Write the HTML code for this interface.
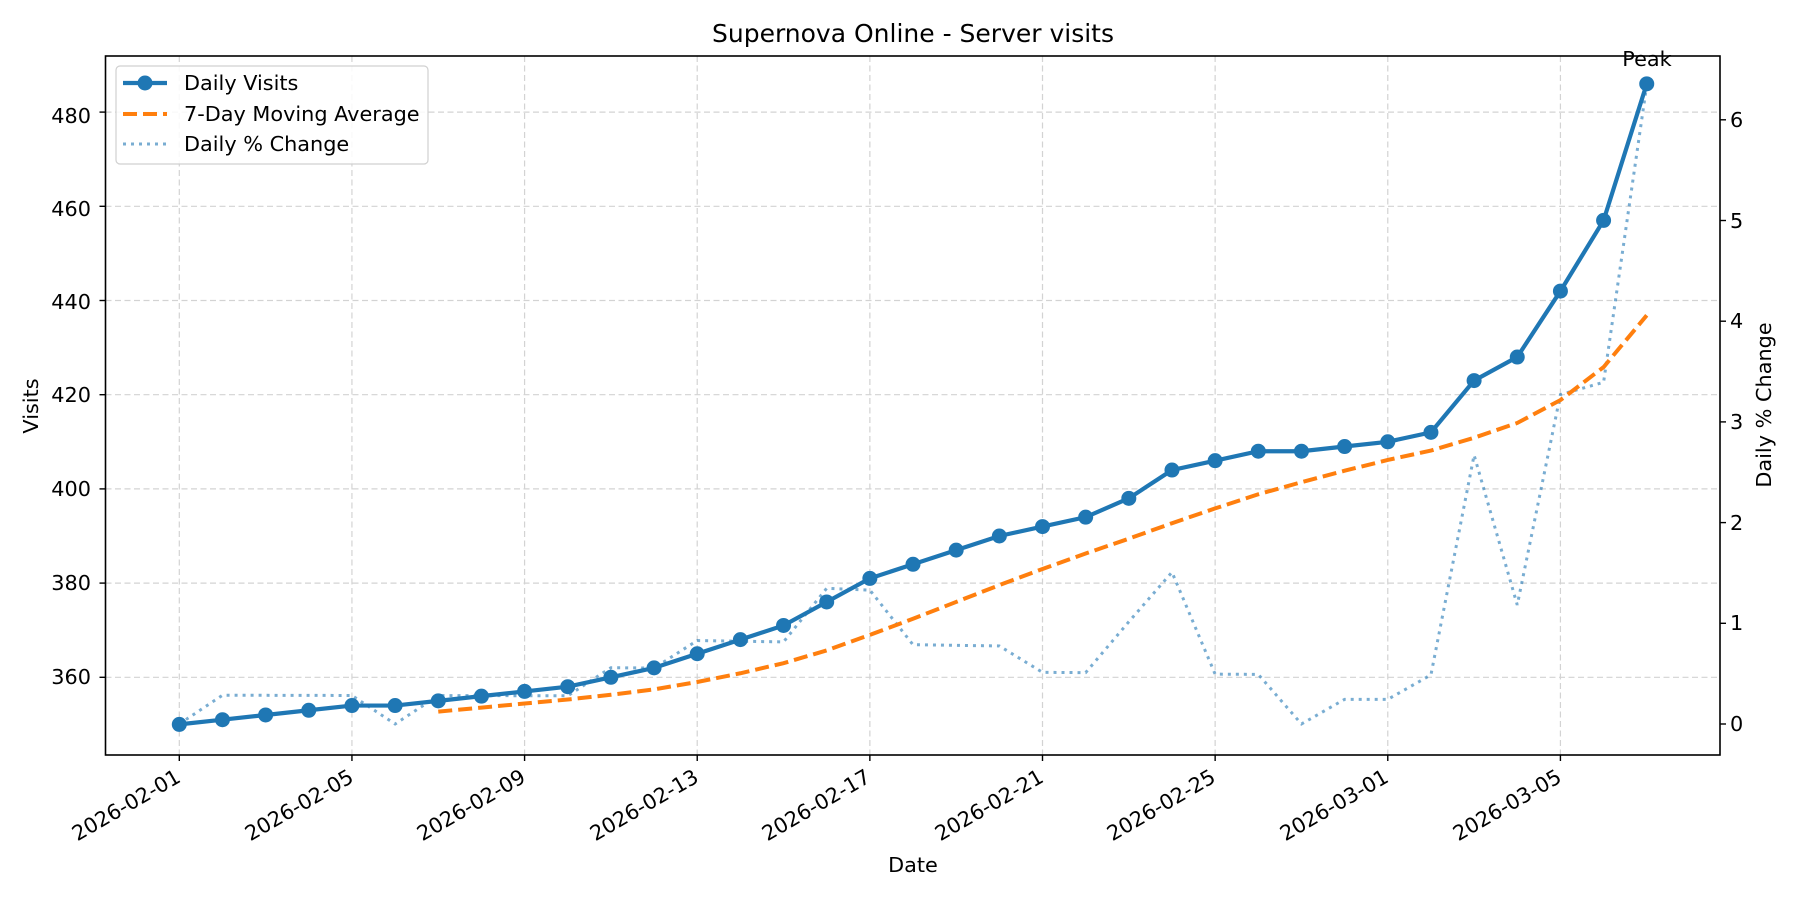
<!DOCTYPE html>
<html><head><meta charset="utf-8"><style>
html,body{margin:0;padding:0;background:#fff}
svg{display:block;font-family:"DejaVu Sans","Liberation Sans",sans-serif}
</style></head><body>
<svg id="s" width="1800" height="900" viewBox="0 0 1800 900" xmlns="http://www.w3.org/2000/svg">
<rect width="1800" height="900" fill="#fff"/>
<g id="grid" stroke="#d3d3d3" stroke-width="1.2" stroke-dasharray="6,3.5"></g>
<g id="series"></g>
<rect x="105.5" y="56" width="1614.5" height="699" fill="none" stroke="#000" stroke-width="1.6"/>
<g id="ticks" stroke="#000" stroke-width="1.4"></g>
<g font-size="20.8" fill="#000">
<g text-anchor="end" dominant-baseline="central">
<text x="91" y="116">480</text>
<text x="91" y="209">460</text>
<text x="91" y="302">440</text>
<text x="91" y="395">420</text>
<text x="91" y="489">400</text>
<text x="91" y="583">380</text>
<text x="91" y="677">360</text>
</g>
<g dominant-baseline="central">
<text x="1730" y="724">0</text>
<text x="1730" y="623">1</text>
<text x="1730" y="523">2</text>
<text x="1730" y="422">3</text>
<text x="1730" y="321">4</text>
<text x="1730" y="221">5</text>
<text x="1730" y="120">6</text>
</g>
<g text-anchor="end">
<text transform="translate(182,781) rotate(-30)">2026-02-01</text>
<text transform="translate(355,781) rotate(-30)">2026-02-05</text>
<text transform="translate(527,781) rotate(-30)">2026-02-09</text>
<text transform="translate(700,781) rotate(-30)">2026-02-13</text>
<text transform="translate(872,781) rotate(-30)">2026-02-17</text>
<text transform="translate(1045,781) rotate(-30)">2026-02-21</text>
<text transform="translate(1217,781) rotate(-30)">2026-02-25</text>
<text transform="translate(1390,781) rotate(-30)">2026-03-01</text>
<text transform="translate(1563,781) rotate(-30)">2026-03-05</text>
</g>
<text x="913" y="872" text-anchor="middle">Date</text>
<text transform="translate(38,406) rotate(-90)" text-anchor="middle">Visits</text>
<text transform="translate(1771,405) rotate(-90)" text-anchor="middle">Daily % Change</text>
<text x="1647" y="66" text-anchor="middle">Peak</text>
<text x="913" y="42" text-anchor="middle" font-size="25">Supernova Online - Server visits</text>
</g>
<g>
<rect x="116" y="66" width="312" height="98" rx="4" fill="#fff" fill-opacity="0.85" stroke="#d0d0d0" stroke-width="1.2"/>
<line x1="123" y1="83" x2="167" y2="83" stroke="#1f77b4" stroke-width="4.2"/>
<circle cx="145" cy="83" r="7.5" fill="#1f77b4"/>
<line x1="123" y1="114" x2="167" y2="114" stroke="#ff7f0e" stroke-width="4" stroke-dasharray="14,6"/>
<line x1="123" y1="144" x2="167" y2="144" stroke="#1f77b4" stroke-opacity="0.6" stroke-width="3" stroke-dasharray="3,5"/>
<g font-size="20.8" fill="#000" dominant-baseline="central">
<text x="184" y="83">Daily Visits</text>
<text x="184" y="114">7-Day Moving Average</text>
<text x="184" y="144">Daily % Change</text>
</g>
</g>
</svg>
<script>
var v=[350,351,352,353,354,354,355,356,357,358,360,362,365,368,371,376,381,384,387,390,392,394,398,404,406,408,408,409,410,412,423,428,442,457,486];
var X=function(i){return 179.3+i*43.16},Y=function(a){return 724.4-(a-350)*4.71},P=function(p){return 724-p*100.7};
var ns="http://www.w3.org/2000/svg";
function el(t,a,p){var e=document.createElementNS(ns,t);for(var k in a)e.setAttribute(k,a[k]);document.getElementById(p).appendChild(e);return e}
for(var i=0;i<9;i++){var x=X(i*4);el('line',{x1:x,y1:56,x2:x,y2:755},'grid');el('line',{x1:x,y1:755,x2:x,y2:761},'ticks')}
[360,380,400,420,440,460,480].forEach(function(a){var y=Y(a);el('line',{x1:105.5,y1:y,x2:1720,y2:y},'grid');el('line',{x1:99.5,y1:y,x2:105.5,y2:y},'ticks')});
for(var k=0;k<=6;k++){el('line',{x1:1720,y1:P(k),x2:1726,y2:P(k)},'ticks')}
var pc=[],ma=[];
for(i=0;i<v.length;i++){pc.push(i?(v[i]-v[i-1])/v[i-1]*100:0);if(i>=6){var s=0;for(var j=i-6;j<=i;j++)s+=v[j];ma.push([X(i),Y(s/7)])}}
el('polyline',{points:pc.map(function(p,i){return X(i)+','+P(p)}).join(' '),fill:'none',stroke:'#1f77b4','stroke-opacity':0.6,'stroke-width':3,'stroke-dasharray':'3,5'},'series');
el('polyline',{points:ma.map(function(p){return p.join(',')}).join(' '),fill:'none',stroke:'#ff7f0e','stroke-width':4,'stroke-dasharray':'14,6'},'series');
el('polyline',{points:v.map(function(a,i){return X(i)+','+Y(a)}).join(' '),fill:'none',stroke:'#1f77b4','stroke-width':4.2},'series');
v.forEach(function(a,i){el('circle',{cx:X(i),cy:Y(a),r:7.5,fill:'#1f77b4'},'series')});
</script>
</body></html>
